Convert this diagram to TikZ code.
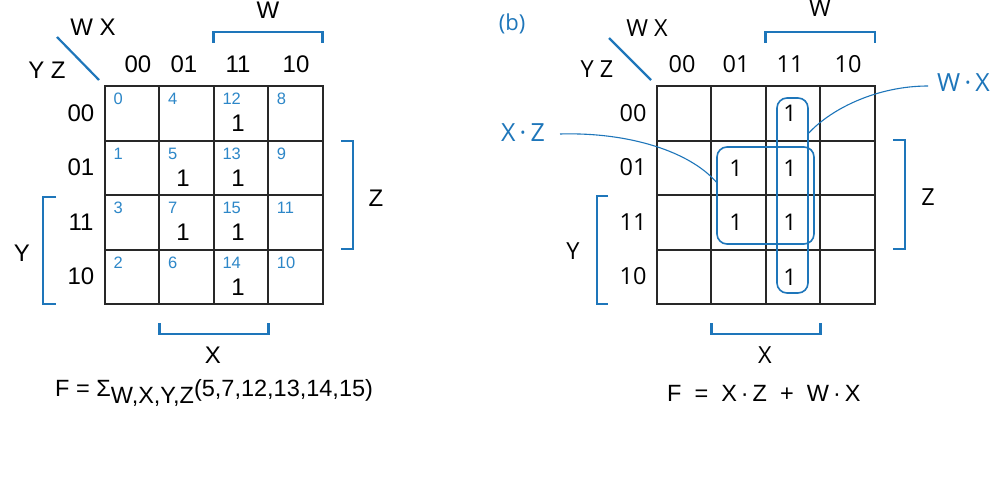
\documentclass[tikz,border=0pt]{standalone}
\usepackage{fontspec}
\setmainfont{Liberation Sans}
\newfontfamily\opensans{Open Sans}
\usetikzlibrary{calc}
\definecolor{kblue}{RGB}{30,118,186}
\definecolor{knum}{RGB}{45,135,200}
\definecolor{kgrid}{RGB}{40,40,40}
\tikzset{
  gridline/.style={draw=kgrid, line width=2pt},
  bracketline/.style={draw=kblue, line width=2.6pt},
  hdrA/.style={font=\fontsize{24}{28}\selectfont, inner sep=0pt},
  hdrB/.style={font=\opensans\fontsize{23.5}{28}\selectfont, inner sep=0pt},
  small/.style={font=\fontsize{16.5}{20}\selectfont, text=knum, inner sep=0pt, anchor=west},
  oneA/.style={font=\fontsize{24}{28}\selectfont, inner sep=0pt},
  oneB/.style={font=\opensans\fontsize{23}{28}\selectfont, inner sep=0pt},
  grp/.style={draw=kblue, line width=1.6pt, rounded corners=10pt, inner sep=0pt},
  leader/.style={draw=kblue, line width=1.1pt},
  formula/.style={font=\fontsize{23.5}{28}\selectfont, inner sep=0pt}
}
\begin{document}
\begin{tikzpicture}[x=1pt,y=-1pt]
\useasboundingbox[fill=white] (0,0) rectangle (992,487);

% ---------------- left map ----------------
\foreach \x in {105,159,214,268,323} {
  \draw[gridline] (\x,86) -- (\x,304);
}
\foreach \y in {86,141,195,250,304} {
  \draw[gridline] (104,\y) -- (324,\y);
}
\node[hdrA] (lwx) at (93,27) {W X};
\node[hdrA] (lyz) at (47,70) {Y Z};
\draw[kblue, line width=2.2pt] (57,37) -- (99,80);
\node[hdrA] (lc0) at (138,64) {00};
\node[hdrA] (lc1) at (184,64) {01};
\node[hdrA] (lc2) at (238,64) {11};
\node[hdrA] (lc3) at (296,64) {10};
\node[hdrA] (lr0) at (81,113) {00};
\node[hdrA] (lr1) at (81,167) {01};
\node[hdrA] (lr2) at (81,222) {11};
\node[hdrA] (lr3) at (81,276) {10};
% brackets
\draw[bracketline] (213.5,43) -- (213.5,32) -- (322.5,32) -- (322.5,43);
\node[hdrA] (lW) at (268,10) {W};
\draw[bracketline] (56,197) -- (43,197) -- (43,304) -- (56,304);
\node[hdrA] (lY) at (22,253) {Y};
\draw[bracketline] (341,141) -- (353,141) -- (353,249) -- (341,249);
\node[hdrA] (lZ) at (376,198) {Z};
\draw[bracketline] (159.5,323) -- (159.5,334) -- (268.5,334) -- (268.5,323);
\node[hdrA] (lX) at (213,355) {X};
% minterm numbers
\foreach \r/\c/\n in {0/0/0,0/1/4,0/2/12,0/3/8,
                      1/0/1,1/1/5,1/2/13,1/3/9,
                      2/0/3,2/1/7,2/2/15,2/3/11,
                      3/0/2,3/1/6,3/2/14,3/3/10} {
  \node[small] (m\n) at ({105+54.4*\c+8.5},{86+54.5*\r+13}) {\n};
}
\node[oneA] (la12) at (238,123) {1};
\node[oneA] (la5)  at (183,178) {1};
\node[oneA] (la13) at (238,178) {1};
\node[oneA] (la7)  at (183,232) {1};
\node[oneA] (la15) at (238,232) {1};
\node[oneA] (la14) at (238,287) {1};
\node[formula, anchor=west] (lf) at (55,393) {F = Σ\raisebox{-0.6ex}{W,X,Y,Z}(5,7,12,13,14,15)};

% ---------------- right map ----------------
\foreach \x in {657,711,766,820,875} {
  \draw[gridline] (\x,86) -- (\x,304);
}
\foreach \y in {86,141,195,250,304} {
  \draw[gridline] (656,\y) -- (876,\y);
}
\node[font=\opensans\fontsize{22}{26}\selectfont, text=kblue, inner sep=0pt] (b) at (512,24) {(b)};
\node[hdrB] (rwx) at (647,28) {W X};
\node[hdrB] (ryz) at (597,69) {Y Z};
\draw[kblue, line width=2.2pt] (609,38) -- (651,80);
\node[hdrB] (rc0) at (682,64) {00};
\node[hdrB] (rc1) at (736,64) {01};
\node[hdrB] (rc2) at (790,64) {11};
\node[hdrB] (rc3) at (848,64) {10};
\node[hdrB] (rr0) at (633,113) {00};
\node[hdrB] (rr1) at (633,167) {01};
\node[hdrB] (rr2) at (633,222) {11};
\node[hdrB] (rr3) at (633,276) {10};
\draw[bracketline] (765.5,43) -- (765.5,32) -- (875,32) -- (875,43);
\node[hdrB] (rW) at (820,8) {W};
\draw[bracketline] (608,196) -- (597,196) -- (597,304) -- (608,304);
\node[hdrB] (rY) at (573,251) {Y};
\draw[bracketline] (893,140) -- (905,140) -- (905,249) -- (893,249);
\node[hdrB] (rZ) at (928,197) {Z};
\draw[bracketline] (711.5,323) -- (711.5,334) -- (820.5,334) -- (820.5,323);
\node[hdrB] (rX) at (765,355) {X};
% ones
\node[oneB] (rb12) at (790,113) {1};
\node[oneB] (rb5)  at (736,168) {1};
\node[oneB] (rb13) at (790,168) {1};
\node[oneB] (rb7)  at (736,222) {1};
\node[oneB] (rb15) at (790,222) {1};
\node[oneB] (rb14) at (790,277) {1};
% groups
\node[grp, minimum width=31pt, minimum height=195pt] (gwx) at (792.5,195.5) {};
\node[grp, minimum width=97pt, minimum height=97pt] (gxz) at (765.5,195.5) {};
% leader labels
\node[font=\opensans\fontsize{25}{28}\selectfont, text=kblue, inner sep=0pt] (lxz) at (523,133) {X\,·\,Z};
\node[font=\opensans\fontsize{25}{28}\selectfont, text=kblue, inner sep=0pt, anchor=west] (lwxl) at (937,83) {W\,·\,X};
\coordinate (xzs) at (560,134);
\coordinate (xze) at ($(gxz.west)+(0,-13.5)$);
\coordinate (wxs) at (928,86);
\coordinate (wxe) at ($(gwx.east)+(0,-62.5)$);
\draw[leader] (xzs) .. controls (630,132) and (690,152) .. (xze);
\draw[leader] (wxs) .. controls (878,86) and (832,108) .. (wxe);
\node[formula, anchor=west] (rf) at (667,393) {F\ \ =\ \ X\,·\,Z\ \ +\ \ W\,·\,X};
\end{tikzpicture}
\end{document}
